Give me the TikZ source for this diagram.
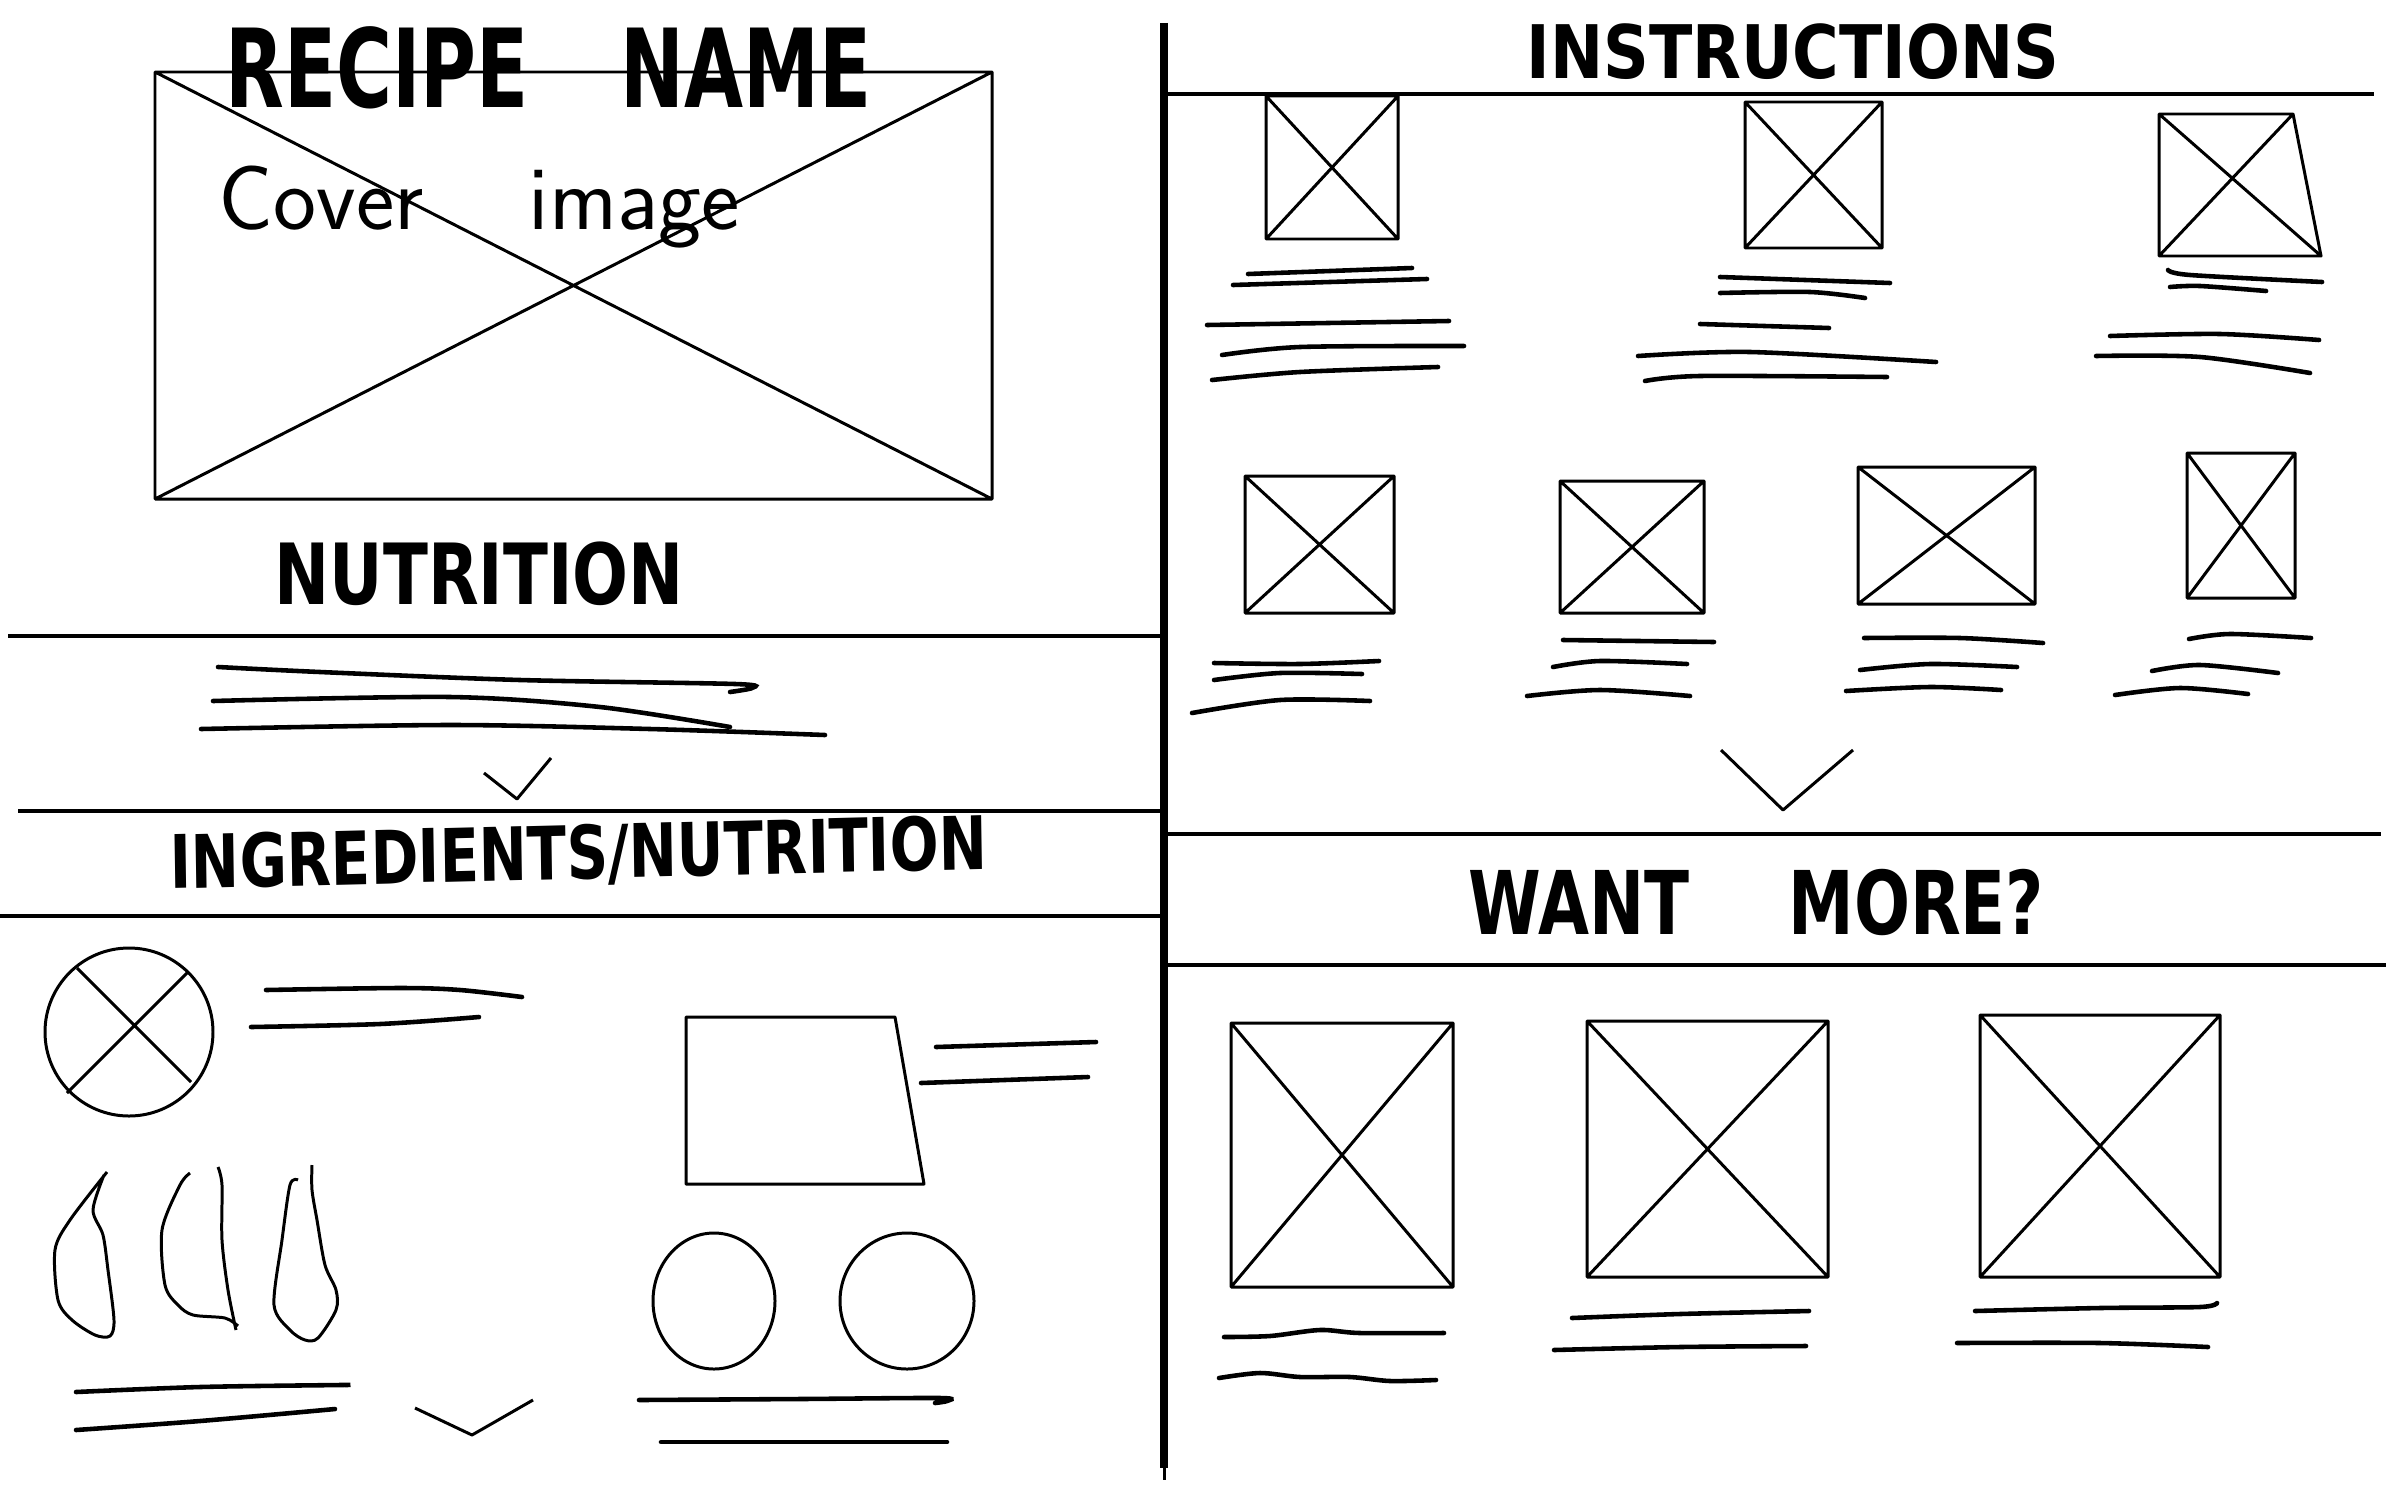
\documentclass[tikz,border=0pt]{standalone}
\usepackage{fontspec}
\newfontfamily\markerfont{DejaVu Sans}
\begin{document}
\begin{tikzpicture}[x=0.01cm,y=-0.01cm,
  rule/.style={line width=1.1pt},
  box/.style={line width=0.85pt,line join=round},
  scrib/.style={line width=1.3pt,line cap=round},
  head/.style={font=\markerfont\bfseries\fontsize{#1}{#1}\selectfont,anchor=base west,inner sep=0pt}]
\useasboundingbox (0,0) rectangle (2386,1491);
% main divider
\draw[line width=2.2pt] (1164,23) -- (1164,1468);
\draw[box] (1164,1460) -- (1164,1480);
% section rules
\draw[rule] (8,636) -- (1161,636);
\draw[rule] (18,811) -- (1161,811);
\draw[rule] (0,916) -- (1161,916);
\draw[rule] (1168,94) -- (2374,94);
\draw[rule] (1168,834) -- (2381,834);
\draw[rule] (1168,965) -- (2386,965);
% image placeholders
\foreach \xa/\ya/\xb/\yb in {155/72/992/499, 1266/96/1398/239, 1745/102/1882/248,
    1245/476/1394/613, 1560/481/1704/613, 1858/467/2035/604, 2187/453/2295/598,
    1231/1023/1453/1287, 1587/1021/1828/1277, 1980/1015/2220/1277}
  \draw[box] (\xa,\ya) rectangle (\xb,\yb) (\xa,\ya) -- (\xb,\yb) (\xa,\yb) -- (\xb,\ya);
\draw[box] (2159,114) -- (2293,114) -- (2321,256) -- (2159,256) -- cycle
  (2159,114) -- (2321,256) (2159,256) -- (2293,114);
% headings
\node[head=31pt,xscale=0.70] (recipe) at (225,107) {RECIPE\hspace{1.2em}NAME};
\node[font=\sffamily\fontsize{26}{26}\selectfont,anchor=base west,inner sep=0pt] (cover) at (218,229) {Cover\hspace{1.15em}image};
\node[head=24pt,xscale=0.78] (nutrition) at (274,604) {NUTRITION};
\node[head=21pt,xscale=0.78,rotate=1.1] (ingredients) at (170,889) {INGREDIENTS/NUTRITION};
\node[head=21pt,xscale=0.86] (instructions) at (1526,79) {INSTRUCTIONS};
\node[head=25pt,xscale=0.75] (wantmore) at (1468,934) {WANT\hspace{1.5em}MORE?};
% nutrition text
\draw[scrib] plot[smooth] coordinates {(218,667) (320,672) (520,680) (735,684) (752,688) (730,692)};
\draw[scrib] plot[smooth] coordinates {(213,701) (450,697) (600,707) (730,727)};
\draw[scrib] plot[smooth] coordinates {(201,729) (450,725) (650,729) (825,735)};
\draw[box] (484,773) -- (517,799) -- (551,758);
% ingredients
\draw[box] (129,1032) circle[radius=84];
\draw[box] (77,968) -- (191,1082) (188,972) -- (67,1093);
\draw[scrib] plot[smooth] coordinates {(266,990) (400,988) (460,990) (522,997)};
\draw[scrib] plot[smooth] coordinates {(251,1027) (380,1024) (479,1017)};
\draw[box] (686,1017) -- (895,1017) -- (924,1184) -- (686,1184) -- cycle;
\draw[scrib] (936,1047) -- (1096,1042);
\draw[scrib] (921,1083) -- (1088,1077);
\draw[box] (714,1301) ellipse[x radius=61,y radius=68];
\draw[box] (907,1301) ellipse[x radius=67,y radius=68];
\draw[scrib] plot[smooth] coordinates {(639,1400) (800,1399) (940,1398) (947,1401) (935,1403)};
\draw[scrib] (661,1442) -- (947,1442);
\draw[box] plot[smooth] coordinates {(107,1172) (70,1220) (55,1250) (58,1300) (72,1320) (95,1335) (110,1336) (114,1320) (108,1270) (103,1235) (93,1210) (104,1175)};
\draw[box] plot[smooth] coordinates {(190,1173) (180,1185) (162,1230) (165,1285) (178,1305) (193,1315) (225,1318) (238,1326)};
\draw[box] plot[smooth] coordinates {(218,1167) (222,1185) (222,1240) (228,1290) (236,1330)};
\draw[box] plot[smooth] coordinates {(298,1180) (290,1185) (282,1240) (274,1305) (290,1330) (305,1340) (318,1338) (336,1310) (336,1290) (325,1265) (317,1220) (312,1190) (312,1165)};
\draw[scrib] plot[smooth] coordinates {(76,1392) (200,1387) (340,1385) (345,1385)};
\draw[scrib] plot[smooth] coordinates {(76,1430) (200,1421) (335,1409)};
\draw[box] (415,1408) -- (472,1435) -- (533,1400);
% instructions text
\draw[scrib] (1248,274) -- (1412,268);
\draw[scrib] (1233,285) -- (1427,279);
\draw[scrib] (1207,325) -- (1449,321);
\draw[scrib] plot[smooth] coordinates {(1222,355) (1300,347) (1464,346)};
\draw[scrib] plot[smooth] coordinates {(1212,380) (1300,372) (1438,367)};
\draw[scrib] (1720,277) -- (1890,283);
\draw[scrib] plot[smooth] coordinates {(1720,293) (1810,292) (1865,298)};
\draw[scrib] (1700,324) -- (1829,328);
\draw[scrib] plot[smooth] coordinates {(1638,356) (1750,352) (1936,362)};
\draw[scrib] plot[smooth] coordinates {(1645,381) (1700,376) (1887,377)};
\draw[scrib] plot[smooth] coordinates {(2168,270) (2190,275) (2322,282)};
\draw[scrib] plot[smooth] coordinates {(2170,287) (2200,286) (2266,291)};
\draw[scrib] plot[smooth] coordinates {(2110,336) (2220,334) (2319,340)};
\draw[scrib] plot[smooth] coordinates {(2096,356) (2200,357) (2310,373)};
\draw[scrib] plot[smooth] coordinates {(1214,663) (1300,664) (1379,661)};
\draw[scrib] plot[smooth] coordinates {(1214,680) (1280,673) (1362,674)};
\draw[scrib] plot[smooth] coordinates {(1192,713) (1280,700) (1370,701)};
\draw[scrib] (1563,640) -- (1714,642);
\draw[scrib] plot[smooth] coordinates {(1553,667) (1600,661) (1687,664)};
\draw[scrib] plot[smooth] coordinates {(1527,696) (1600,690) (1690,696)};
\draw[scrib] plot[smooth] coordinates {(1864,638) (1960,638) (2043,643)};
\draw[scrib] plot[smooth] coordinates {(1860,670) (1930,664) (2017,667)};
\draw[scrib] plot[smooth] coordinates {(1846,691) (1930,687) (2001,690)};
\draw[scrib] plot[smooth] coordinates {(2189,639) (2230,634) (2311,638)};
\draw[scrib] plot[smooth] coordinates {(2152,671) (2200,665) (2278,673)};
\draw[scrib] plot[smooth] coordinates {(2115,695) (2180,688) (2248,694)};
\draw[box] (1721,750) -- (1783,810) -- (1853,750);
% want more text
\draw[scrib] plot[smooth] coordinates {(1224,1337) (1270,1336) (1320,1330) (1360,1333) (1444,1333)};
\draw[scrib] plot[smooth] coordinates {(1219,1378) (1260,1373) (1300,1377) (1350,1377) (1390,1381) (1436,1380)};
\draw[scrib] plot[smooth] coordinates {(1572,1318) (1680,1314) (1809,1311)};
\draw[scrib] plot[smooth] coordinates {(1554,1350) (1680,1347) (1806,1346)};
\draw[scrib] plot[smooth] coordinates {(1975,1311) (2100,1308) (2200,1307) (2217,1303)};
\draw[scrib] plot[smooth] coordinates {(1957,1343) (2100,1343) (2208,1347)};
\end{tikzpicture}
\end{document}
